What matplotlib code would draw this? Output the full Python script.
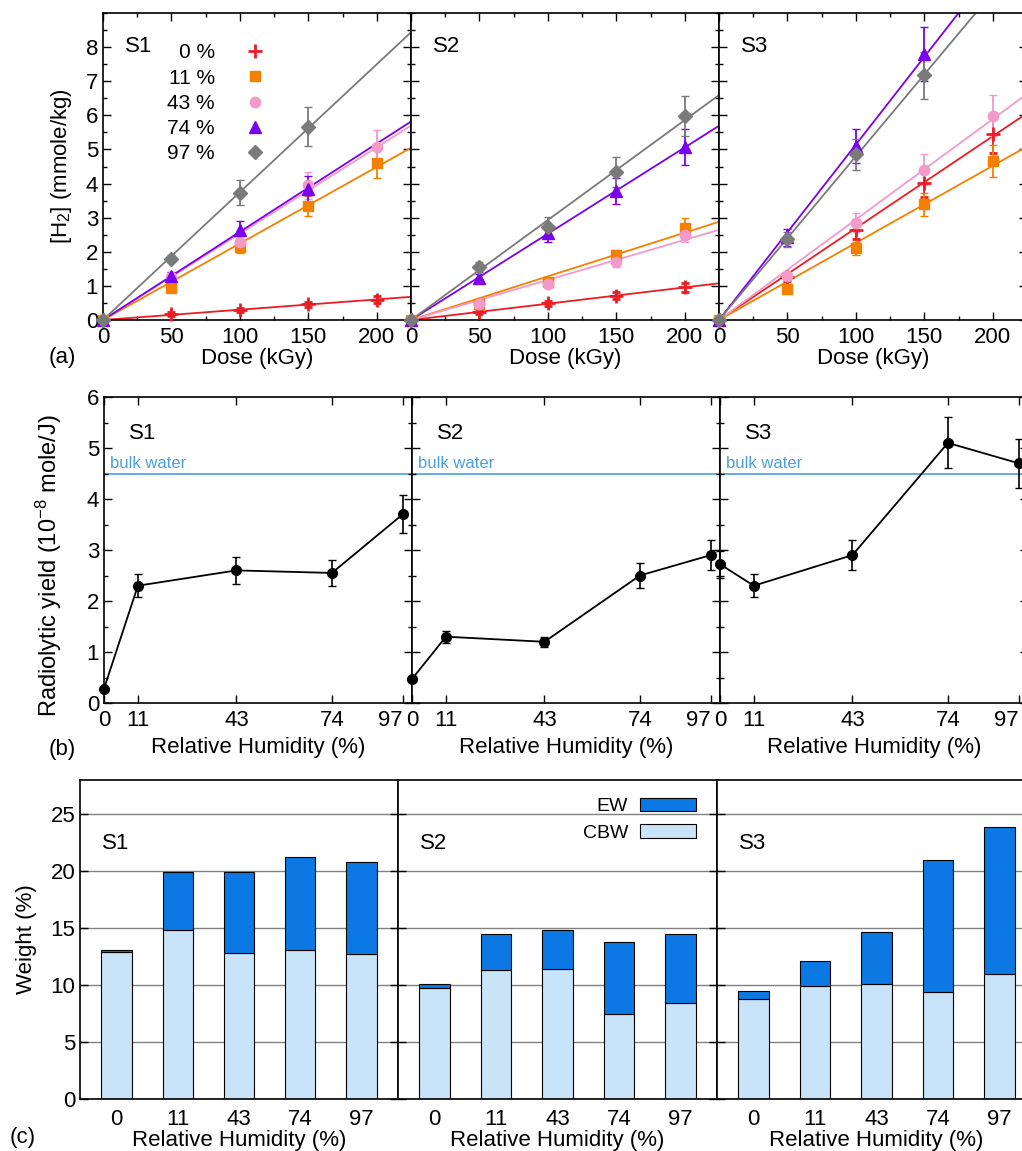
import numpy as np
import matplotlib
matplotlib.use('Agg')
import matplotlib.pyplot as plt
from matplotlib.lines import Line2D
from matplotlib.patches import Patch
from matplotlib.ticker import MultipleLocator

plt.rcParams['font.family'] = ['Liberation Sans', 'DejaVu Sans']
plt.rcParams['font.size'] = 16
plt.rcParams['mathtext.fontset'] = 'custom'
plt.rcParams['mathtext.rm'] = 'Liberation Sans'
plt.rcParams['mathtext.it'] = 'Liberation Sans:italic'

# ---- data (a): H2 vs dose, rows = 0, 11, 43, 74, 97 % RH
samples = ['S1', 'S2', 'S3']
rh_labels = ['0 %', '11 %', '43 %', '74 %', '97 %']
dose = [0, 50, 100, 150, 200]

h2_s1 = [[0, 0.17, 0.29, 0.46, 0.60],
         [0, 0.93, 2.15, 3.34, 4.60],
         [0, 1.25, 2.30, 3.95, 5.07],
         [0, 1.29, 2.63, 3.85, np.nan],
         [0, 1.80, 3.73, 5.66, np.nan]]
h2_s1_err = [[0, 0.05, 0.07, 0.08, 0.10],
             [0, 0.10, 0.20, 0.30, 0.45],
             [0, 0.12, 0.23, 0.40, 0.50],
             [0, 0.13, 0.26, 0.38, np.nan],
             [0, 0.10, 0.37, 0.57, np.nan]]
h2_s2 = [[0, 0.22, 0.49, 0.71, 0.96],
         [0, 0.46, 1.12, 1.90, 2.70],
         [0, 0.46, 1.05, 1.70, 2.49],
         [0, 1.22, 2.54, 3.79, 5.07],
         [0, 1.56, 2.73, 4.34, 5.98]]
h2_s2_err = [[0, 0.05, 0.08, 0.10, 0.13],
             [0, 0.05, 0.10, 0.15, 0.30],
             [0, 0.05, 0.10, 0.15, 0.20],
             [0, 0.12, 0.25, 0.38, 0.52],
             [0, 0.15, 0.28, 0.45, 0.60]]
h2_s3 = [[0, 1.25, 2.63, 4.02, 5.46],
         [0, 0.90, 2.10, 3.39, 4.66],
         [0, 1.29, 2.85, 4.41, 5.99],
         [0, 2.42, 5.09, 7.80, np.nan],
         [0, 2.36, 4.86, 7.17, np.nan]]
h2_s3_err = [[0, 0.12, 0.26, 0.40, 0.55],
             [0, 0.10, 0.20, 0.34, 0.46],
             [0, 0.13, 0.28, 0.45, 0.60],
             [0, 0.25, 0.50, 0.78, np.nan],
             [0, 0.23, 0.45, 0.70, np.nan]]

# ---- data (b): radiolytic yield vs RH
rh = [0, 11, 43, 74, 97]
yield_s1 = [0.28, 2.30, 2.60, 2.55, 3.70]
yield_s1_err = [0.03, 0.23, 0.26, 0.25, 0.37]
yield_s2 = [0.47, 1.30, 1.20, 2.50, 2.90]
yield_s2_err = [0.03, 0.12, 0.10, 0.25, 0.29]
yield_s3 = [2.72, 2.30, 2.90, 5.10, 4.70]
yield_s3_err = [0.27, 0.23, 0.29, 0.50, 0.48]
bulk_water = 4.5

# ---- data (c): weight %, CBW + EW stacked
cbw_s1 = [12.9, 14.8, 12.8, 13.1, 12.7]
ew_s1 = [0.2, 5.1, 7.1, 8.1, 8.1]
cbw_s2 = [9.7, 11.3, 11.4, 7.5, 8.4]
ew_s2 = [0.4, 3.2, 3.4, 6.3, 6.1]
cbw_s3 = [8.8, 9.9, 10.1, 9.4, 11.0]
ew_s3 = [0.7, 2.2, 4.6, 11.6, 12.9]

colors = ['#ec1c24', '#f58000', '#f39ac9', '#7a00ee', '#7a7a7a']
markers = ['+', 's', 'o', '^', 'D']
msizes = [10, 7, 7.5, 8, 7]
blue_line = '#4aa0dc'
ew_color = '#0b78e3'
cbw_color = '#c9e4f8'

W, H = 1022, 1151
fig = plt.figure(figsize=(W / 100, H / 100), dpi=100)


def box(x0, x1, top, bottom):
    return [x0 / W, 1 - bottom / H, (x1 - x0) / W, (bottom - top) / H]


def style(ax):
    ax.tick_params(which='both', direction='in', top=True, right=True, width=1)
    ax.tick_params(which='major', length=6)
    ax.tick_params(which='minor', length=3)
    for s in ax.spines.values():
        s.set_linewidth(1.2)


# ---- panel (a)
h2_all = [h2_s1, h2_s2, h2_s3]
h2_err_all = [h2_s1_err, h2_s2_err, h2_s3_err]
edges_a = [103, 411, 719, 1027]
x = np.array(dose, dtype=float)
for i in range(3):
    ax = fig.add_axes(box(edges_a[i], edges_a[i + 1], 13, 320))
    style(ax)
    ax.set_xlim(0, 225)
    ax.set_ylim(0, 9)
    xl = np.array(ax.get_xlim())
    for k in range(5):
        y = np.array(h2_all[i][k], dtype=float)
        ok = ~np.isnan(y)
        # least-squares line through the origin
        slope = np.sum(x[ok] * y[ok]) / np.sum(x[ok] ** 2)
        ax.plot(xl, slope * xl, color=colors[k], lw=1.3, zorder=2)
        ax.errorbar(x, y, yerr=h2_err_all[i][k], fmt=markers[k], color=colors[k],
                    ms=msizes[k], mew=2 if k == 0 else 1, capsize=3, elinewidth=1.3,
                    clip_on=False, zorder=3)
    ax.set_xticks([0, 50, 100, 150, 200])
    ax.xaxis.set_minor_locator(MultipleLocator(25))
    ax.set_yticks(range(0, 9))
    ax.yaxis.set_minor_locator(MultipleLocator(0.5))
    ax.tick_params(axis='x', pad=5)
    if i > 0:
        ax.set_yticklabels([])
    else:
        ax.set_ylabel('[H$_2$] (mmole/kg)')
        ax.yaxis.set_label_coords(-0.095, 0.5)
    ax.set_xlabel('Dose (kGy)', labelpad=0)
    ax.text(0.07, 0.89, samples[i], transform=ax.transAxes, va='center', fontsize=16)
    if i == 0:
        handles = [Line2D([], [], ls='none', marker=markers[k], color=colors[k],
                          ms=msizes[k], mew=2 if k == 0 else 1) for k in range(5)]
        ax.legend(handles, rh_labels, markerfirst=False, frameon=False, loc='upper left',
                  bbox_to_anchor=(0.175, 0.935), borderpad=0, handlelength=1.2,
                  handletextpad=1.3, labelspacing=0.3, fontsize=15)
fig.text(49 / W, 1 - 357 / H, '(a)', fontsize=16, va='center')

# ---- panel (b)
yield_all = [yield_s1, yield_s2, yield_s3]
yield_err_all = [yield_s1_err, yield_s2_err, yield_s3_err]
edges_b = [104, 412, 720, 1028]
for i in range(3):
    ax = fig.add_axes(box(edges_b[i], edges_b[i + 1], 397, 703))
    style(ax)
    ax.set_xlim(0, 100)
    ax.set_ylim(0, 6)
    ax.axhline(bulk_water, color=blue_line, lw=1.2, zorder=1)
    ax.text(0.02, bulk_water + 0.04, 'bulk water', color=blue_line, fontsize=12,
            transform=ax.get_yaxis_transform(), va='bottom')
    ax.errorbar(rh, yield_all[i], yerr=yield_err_all[i], fmt='o-', color='black',
                ms=7, lw=1.3, capsize=3, elinewidth=1.2, clip_on=False, zorder=3)
    ax.set_xticks(rh)
    ax.set_yticks(range(0, 7))
    ax.yaxis.set_minor_locator(MultipleLocator(0.5))
    ax.tick_params(axis='x', pad=5)
    ax.xaxis.get_major_ticks()[-1].label1.set_horizontalalignment('right')
    if i > 0:
        ax.set_yticklabels([])
    else:
        ax.set_ylabel('Radiolytic yield (10$^{-8}$ mole/J)', fontsize=17)
        ax.yaxis.set_label_coords(-0.13, 0.45)
    ax.set_xlabel('Relative Humidity (%)', labelpad=4)
    ax.text(0.08, 0.88, samples[i], transform=ax.transAxes, va='center', fontsize=16)
fig.text(49 / W, 1 - 750 / H, '(b)', fontsize=16, va='center')

# ---- panel (c)
cbw_all = [cbw_s1, cbw_s2, cbw_s3]
ew_all = [ew_s1, ew_s2, ew_s3]
edges_c = [80, 398, 717, 1036]
pos = np.arange(len(rh))
for i in range(3):
    ax = fig.add_axes(box(edges_c[i], edges_c[i + 1], 780, 1099))
    style(ax)
    ax.set_xlim(-0.6, 4.6)
    ax.set_ylim(0, 28)
    ax.set_yticks(range(0, 26, 5))
    ax.grid(axis='y', color='#808080', lw=1)
    ax.set_axisbelow(True)
    ax.bar(pos, cbw_all[i], width=0.5, color=cbw_color, edgecolor='black', lw=0.8, label='CBW')
    ax.bar(pos, ew_all[i], bottom=cbw_all[i], width=0.5, color=ew_color, edgecolor='black',
           lw=0.8, label='EW')
    ax.set_xticks(pos)
    ax.set_xticklabels([str(v) for v in rh])
    ax.tick_params(axis='x', length=0, pad=7)
    if i > 0:
        ax.set_yticklabels([])
    else:
        ax.set_ylabel('Weight (%)')
        ax.yaxis.set_label_coords(-0.135, 0.5)
    ax.set_xlabel('Relative Humidity (%)', labelpad=0)
    ax.text(0.07, 0.80, samples[i], transform=ax.transAxes, va='center', fontsize=16)
    if i == 1:
        handles = [Patch(facecolor=ew_color, edgecolor='black', lw=0.8),
                   Patch(facecolor=cbw_color, edgecolor='black', lw=0.8)]
        ax.legend(handles, ['EW', 'CBW'], markerfirst=False, frameon=False, loc='upper right',
                  bbox_to_anchor=(0.965, 0.975), borderpad=0, handlelength=2.9,
                  handleheight=0.7, handletextpad=0.6, labelspacing=0.45, fontsize=14)
fig.text(10 / W, 1 - 1137 / H, '(c)', fontsize=16, va='center')

fig.savefig('out.png', dpi=100)
